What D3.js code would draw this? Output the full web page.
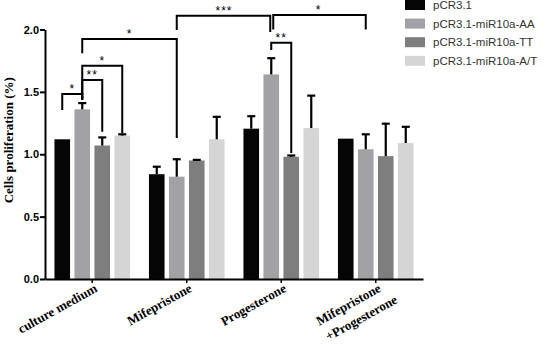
<!DOCTYPE html>
<html>
<head>
<meta charset="utf-8">
<script src="https://cdn.jsdelivr.net/npm/d3@7"></script>
<style>
body{margin:0;background:#fff;}
svg{display:block;}
</style>
</head>
<body>
<svg id="chart" width="550" height="344"></svg>
<script>
// data
const categories = ['culture medium', 'Mifepristone', 'Progesterone', 'Mifepristone\n+Progesterone'];
const seriesNames = ['pCR3.1', 'pCR3.1-miR10a-AA', 'pCR3.1-miR10a-TT', 'pCR3.1-miR10a-A/T'];
const seriesColors = ['#050505', '#a2a2a6', '#7e7e7e', '#d5d5d5'];
const means = [
    [1.12, 1.36, 1.07, 1.15],
    [0.84, 0.82, 0.95, 1.12],
    [1.205, 1.64, 0.98, 1.21],
    [1.125, 1.04, 0.985, 1.09]
];
const errs = [
    [0, 0.05, 0.065, 0.01],
    [0.06, 0.14, 0.005, 0.18],
    [0.10, 0.13, 0.01, 0.26],
    [0, 0.12, 0.26, 0.13]
];
const yTicks = [0, 0.5, 1.0, 1.5, 2.0];
// significance brackets: [cat, series] -> [cat, series], top value, leg bottoms, label
const brackets = [
    {from:[0,0], to:[0,1], top:1.483, lb:1.355, rb:1.443, label:'*'},
    {from:[0,1], to:[0,2], top:1.595, lb:1.435, rb:1.18, label:'**'},
    {from:[0,1], to:[0,3], top:1.71, lb:1.435, rb:1.17, label:'*'},
    {from:[0,1], to:[1,1], top:1.924, lb:1.81, rb:1.13, label:'*'},
    {from:[1,1], to:[2,1], top:2.11, lb:1.996, rb:1.98, label:'***', rdx:-1},
    {from:[2,1], to:[3,1], top:2.116, lb:2.0, rb:2.0, label:'*', ldx:2},
    {from:[2,1], to:[2,2], top:1.894, lb:1.836, rb:1.01, label:'**'}
];

const svg = d3.select('#chart');
const x0 = d3.scaleBand().domain(d3.range(categories.length)).range([45, 423]).paddingInner(0.2).paddingOuter(0.1);
const x1 = d3.scaleBand().domain(d3.range(seriesNames.length)).range([0, x0.bandwidth()]).paddingInner(0.22);
const y = d3.scaleLinear().domain([0, 2]).range([279, 29.5]);
const bx = (c, s) => x0(c) + x1(s) + x1.bandwidth() / 2;

// bars
const groups = svg.append('g').selectAll('g').data(means).join('g')
    .attr('transform', (d, i) => `translate(${x0(i)},0)`);
groups.selectAll('rect').data(d => d).join('rect')
    .attr('x', (d, i) => x1(i))
    .attr('y', d => y(d))
    .attr('width', x1.bandwidth())
    .attr('height', d => y(0) - y(d))
    .attr('fill', (d, i) => seriesColors[i]);

// error bars
const eb = [];
means.forEach((row, c) => row.forEach((m, s) => { if (errs[c][s] > 0) eb.push({c, s, m, e: errs[c][s]}); }));
const ebg = svg.append('g').attr('stroke', '#000').attr('stroke-width', 2.2);
ebg.selectAll('line.v').data(eb).join('line').attr('class', 'v')
    .attr('x1', d => bx(d.c, d.s)).attr('x2', d => bx(d.c, d.s))
    .attr('y1', d => y(d.m)).attr('y2', d => y(d.m + d.e));
ebg.selectAll('line.h').data(eb).join('line').attr('class', 'h')
    .attr('x1', d => bx(d.c, d.s) - 4).attr('x2', d => bx(d.c, d.s) + 4)
    .attr('y1', d => y(d.m + d.e)).attr('y2', d => y(d.m + d.e));

// y axis
const yAxis = svg.append('g').attr('transform', 'translate(45,0)')
    .call(d3.axisLeft(y).tickValues(yTicks).tickFormat(d3.format('.1f')).tickSize(5).tickSizeOuter(0));
yAxis.select('.domain').attr('stroke-width', 2);
yAxis.selectAll('.tick line').attr('stroke-width', 2);
yAxis.selectAll('.tick text').attr('x', -6)
    .style('font-family', 'Liberation Sans, Arial, sans-serif').style('font-size', '11px').style('font-weight', 'bold').attr('fill', '#000');

// x axis
const xAxis = svg.append('g').attr('transform', `translate(0,${y(0)})`)
    .call(d3.axisBottom(x0).tickSize(4).tickSizeOuter(0).tickFormat(''));
xAxis.select('.domain').attr('stroke-width', 2);
xAxis.selectAll('.tick line').attr('stroke-width', 1.5);

// category labels, slanted
const xl = svg.append('g').selectAll('g').data(categories).join('g')
    .attr('transform', (d, i) => `translate(${x0(i) + x0.bandwidth() / 2 + 6},${y(0) + 12})`)
  .append('g').attr('transform', 'rotate(-29)')
  .append('text')
    .attr('text-anchor', 'end')
    .style('font-family', 'Liberation Serif, Times New Roman, serif')
    .style('font-size', '13px').style('font-weight', 'bold');
xl.selectAll('tspan').data(d => d.split('\n')).join('tspan')
    .attr('x', (d, i) => i * 9).attr('y', (d, i) => i * 18)
    .text(d => d);

// y label
svg.append('text')
    .attr('transform', `translate(12.5,${(y(0) + y(2)) / 2 - 14}) rotate(-90)`)
    .attr('text-anchor', 'middle')
    .style('font-family', 'Liberation Serif, Times New Roman, serif')
    .style('font-size', '13px').style('font-weight', 'bold')
    .text('Cells proliferation (%)');

// significance brackets
const bg = svg.append('g');
bg.selectAll('path').data(brackets).join('path')
    .attr('fill', 'none').attr('stroke', '#000').attr('stroke-width', 2)
    .attr('d', d => {
        const xa = bx(d.from[0], d.from[1]) + (d.ldx || 0);
        const xb = bx(d.to[0], d.to[1]) + (d.rdx || 0);
        return `M${xa},${y(d.lb)}V${y(d.top)}H${xb}V${y(d.rb)}`;
    });
bg.selectAll('text').data(brackets).join('text')
    .attr('x', d => (bx(d.from[0], d.from[1]) + bx(d.to[0], d.to[1])) / 2)
    .attr('y', d => y(d.top) - 1)
    .attr('text-anchor', 'middle')
    .style('font-family', 'Liberation Sans, Arial, sans-serif').style('font-size', '12px')
    .style('letter-spacing', '1px')
    .text(d => d.label);

// legend
const lg = svg.append('g').attr('transform', 'translate(405,0)');
const li = lg.selectAll('g').data(seriesNames).join('g')
    .attr('transform', (d, i) => `translate(0,${i * 18.6})`);
li.append('rect').attr('width', 20).attr('height', 10).attr('fill', (d, i) => seriesColors[i]);
li.append('text').attr('x', 28).attr('y', 5).attr('dy', '0.35em')
    .style('font-family', 'Liberation Sans, Arial, sans-serif').style('font-size', '11.5px')
    .attr('fill', '#333').text(d => d);
</script>
</body>
</html>
